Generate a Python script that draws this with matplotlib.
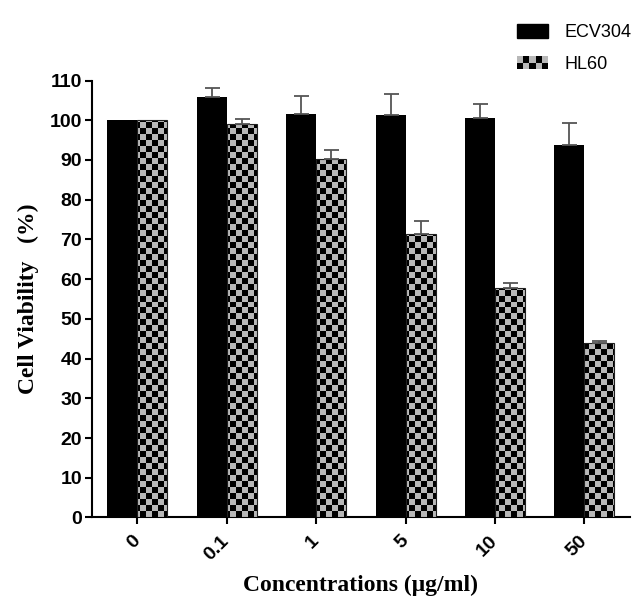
import matplotlib
matplotlib.use("Agg")
import matplotlib.pyplot as plt
import numpy as np
from matplotlib.patches import Rectangle, Patch
from matplotlib.path import Path
from matplotlib.legend_handler import HandlerBase

# data
concentrations = ["0", "0.1", "1", "5", "10", "50"]
ecv304 = [100, 105.9, 101.7, 101.3, 100.6, 93.8]
ecv304_err = [0, 2.2, 4.5, 5.3, 3.5, 5.4]
hl60 = [100, 99.0, 90.2, 71.4, 57.7, 44.0]
hl60_err = [0, 1.3, 2.4, 3.3, 1.4, 0.5]

CHECK_GRAY = "#b8b8b8"


class CheckerHandler(HandlerBase):
    """Legend key drawn as a small checkerboard."""
    def create_artists(self, legend, orig_handle, xdescent, ydescent,
                       width, height, fontsize, trans):
        ncol, nrow = 5, 2
        cw, ch = width / ncol, height / nrow
        arts = [Rectangle((-xdescent, -ydescent), width, height,
                          facecolor=CHECK_GRAY, edgecolor="none", transform=trans)]
        for i in range(ncol):
            for j in range(nrow):
                if (i + j) % 2 == 0:
                    arts.append(Rectangle((-xdescent + i * cw, -ydescent + j * ch),
                                          cw, ch, facecolor="black",
                                          edgecolor="none", transform=trans))
        return arts


fig = plt.figure(figsize=(6.37, 6.01), dpi=100)
ax = fig.add_axes([0.144, 0.139, 0.845, 0.727])

x = np.arange(len(concentrations))
w = 0.335

ax.bar(x - w / 2, ecv304, w, color="black", zorder=2)
hl_bars = ax.bar(x + w / 2, hl60, w, facecolor="none", edgecolor="#202020",
                 linewidth=0.8, zorder=4)

# checkerboard fill for HL60, clipped to the bar shapes
xlim = (-0.51, len(concentrations) - 0.49)
ylim = (0, 110)
nx, ny = 90, 73
checker = (np.add.outer(np.arange(ny), np.arange(nx)) % 2).astype(float)
img = ax.imshow(checker, extent=(xlim[0], xlim[1], ylim[0], ylim[1]),
                cmap=matplotlib.colors.ListedColormap(["black", CHECK_GRAY]),
                aspect="auto", interpolation="nearest", origin="lower", zorder=3)
clip = Path.make_compound_path(*[Path.unit_rectangle().transformed(
    matplotlib.transforms.Affine2D().scale(b.get_width(), b.get_height())
    .translate(b.get_x(), b.get_y())) for b in hl_bars])
img.set_clip_path(clip, transform=ax.transData)

# upper error bars only
err_kw = dict(fmt="none", ecolor="#555555", elinewidth=1.3, capsize=5.4,
              capthick=1.3, zorder=5)
e_ecv = np.array(ecv304_err)
e_hl = np.array(hl60_err)
m1 = e_ecv > 0
m2 = e_hl > 0
ax.errorbar((x - w / 2)[m1], np.array(ecv304)[m1],
            yerr=[np.zeros(m1.sum()), e_ecv[m1]], **err_kw)
ax.errorbar((x + w / 2)[m2], np.array(hl60)[m2],
            yerr=[np.zeros(m2.sum()), e_hl[m2]], **err_kw)

ax.set_xlim(*xlim)
ax.set_ylim(*ylim)
ax.set_yticks(np.arange(0, 111, 10))
ax.set_xticks(x)
ax.set_xticklabels(concentrations, rotation=45, ha="right", va="center",
                   rotation_mode="anchor")

for s in ["top", "right"]:
    ax.spines[s].set_visible(False)
for s in ["left", "bottom"]:
    ax.spines[s].set_linewidth(1.5)
ax.tick_params(axis="both", width=1.5, length=5, labelsize=14)
ax.tick_params(axis="x", pad=10)
ax.tick_params(axis="y", pad=2)
for lab in ax.get_xticklabels() + ax.get_yticklabels():
    lab.set_fontfamily("Liberation Sans")
    lab.set_fontweight("bold")

ax.set_ylabel("Cell Viability   (%)", family="Liberation Serif", weight="bold",
              fontsize=17, labelpad=8)
ax.set_xlabel("Concentrations (μg/ml)", family="Liberation Serif", weight="bold",
              fontsize=17, labelpad=8)

handles = [Patch(color="black", label="ECV304"), Rectangle((0, 0), 1, 1, label="HL60")]
leg = fig.legend(handles=handles, loc="upper left", bbox_to_anchor=(0.797, 0.975),
                 frameon=False, handlelength=1.75, handleheight=0.8,
                 handletextpad=0.9, labelspacing=0.8, borderpad=0,
                 prop={"family": "Liberation Sans", "size": 13},
                 handler_map={Rectangle: CheckerHandler()})

fig.savefig("out.png", dpi=100)
